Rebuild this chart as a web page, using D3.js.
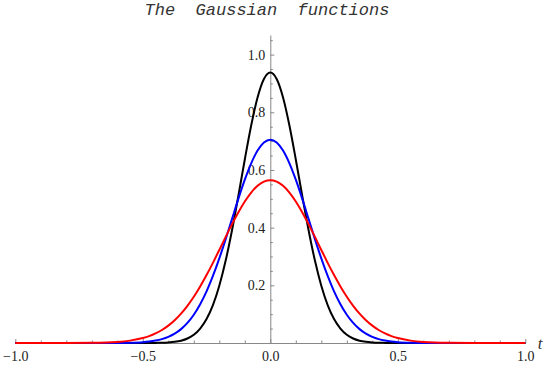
<!DOCTYPE html>
<html>
<head>
<meta charset="utf-8">
<script src="https://cdn.jsdelivr.net/npm/d3@7"></script>
<style>
  body { margin: 0; background: #fff; }
  svg { display: block; }
  .axis text { font-family: "Liberation Serif", "Times New Roman", serif; font-size: 14px; fill: #222; }
  .axis line, .axis path { stroke: #888; }
</style>
</head>
<body>
<div id="chart"></div>
<script>
// values
var tValues = [-1, -0.8, -0.7, -0.6, -0.55, -0.5, -0.475, -0.45, -0.425, -0.4, -0.375, -0.35, -0.325,
  -0.3, -0.275, -0.25, -0.225, -0.2, -0.175, -0.15, -0.125, -0.1, -0.075, -0.05, -0.025, 0,
  0.025, 0.05, 0.075, 0.1, 0.125, 0.15, 0.175, 0.2, 0.225, 0.25, 0.275, 0.3, 0.325, 0.35,
  0.375, 0.4, 0.425, 0.45, 0.475, 0.5, 0.55, 0.6, 0.7, 0.8, 1];

var blackValues = [0, 0, 0, 0, 0, 0, 0.0001, 0.0004, 0.0008, 0.0019, 0.004, 0.0081, 0.0156,
  0.0285, 0.0499, 0.083, 0.1316, 0.1987, 0.2858, 0.3918, 0.5116, 0.6363, 0.7541, 0.8513, 0.9155, 0.938,
  0.9155, 0.8513, 0.7541, 0.6363, 0.5116, 0.3918, 0.2858, 0.1987, 0.1316, 0.083, 0.0499, 0.0285, 0.0156, 0.0081,
  0.004, 0.0019, 0.0008, 0.0004, 0.0001, 0, 0, 0, 0, 0, 0];

var blueValues = [0, 0, 0, 0.0003, 0.0009, 0.0029, 0.005, 0.0083, 0.0134, 0.0211, 0.0323, 0.0481, 0.0696,
  0.098, 0.1344, 0.1791, 0.2324, 0.2933, 0.3603, 0.4305, 0.5006, 0.5662, 0.6232, 0.6674, 0.6954, 0.705,
  0.6954, 0.6674, 0.6232, 0.5662, 0.5006, 0.4305, 0.3603, 0.2933, 0.2324, 0.1791, 0.1344, 0.098, 0.0696, 0.0481,
  0.0323, 0.0211, 0.0134, 0.0083, 0.005, 0.0029, 0.0009, 0.0003, 0, 0, 0];

var redValues = [0, 0.0001, 0.0006, 0.0037, 0.0082, 0.0171, 0.024, 0.0332, 0.0451, 0.0602, 0.0789, 0.1017, 0.1288,
  0.1603, 0.196, 0.2355, 0.278, 0.3226, 0.3678, 0.4121, 0.4536, 0.4908, 0.5218, 0.5451, 0.5596, 0.5645,
  0.5596, 0.5451, 0.5218, 0.4908, 0.4536, 0.4121, 0.3678, 0.3226, 0.278, 0.2355, 0.196, 0.1603, 0.1288, 0.1017,
  0.0789, 0.0602, 0.0451, 0.0332, 0.024, 0.0171, 0.0082, 0.0037, 0.0006, 0.0001, 0];

var xMajorTicks = [-1, -0.5, 0, 0.5, 1];
var xMinorTicks = [-0.9, -0.8, -0.7, -0.6, -0.4, -0.3, -0.2, -0.1, 0.1, 0.2, 0.3, 0.4, 0.6, 0.7, 0.8, 0.9];
var yMajorTicks = [0.2, 0.4, 0.6, 0.8, 1.0];
var yMinorTicks = [0.05, 0.1, 0.15, 0.25, 0.3, 0.35, 0.45, 0.5, 0.55, 0.65, 0.7, 0.75, 0.85, 0.9, 0.95, 1.05];

var series = [
  {name: "black", color: "#000000", values: blackValues},
  {name: "blue", color: "#0000ff", values: blueValues},
  {name: "red", color: "#ff0000", values: redValues}
];

var width = 552, height = 368;

var x = d3.scaleLinear().domain([-1, 1]).range([15.3, 525.3]);
var y = d3.scaleLinear().domain([0, 1.068]).range([343, 35]);

var svg = d3.select("#chart").append("svg")
    .attr("width", width)
    .attr("height", height);

// title
svg.append("text")
    .attr("x", 267)
    .attr("y", 15)
    .attr("text-anchor", "middle")
    .attr("font-family", "Liberation Mono, DejaVu Sans Mono, monospace")
    .attr("font-style", "italic")
    .attr("font-size", 17)
    .attr("fill", "#333")
    .attr("xml:space", "preserve")
    .style("white-space", "pre")
    .text("The  Gaussian  functions");

// x axis (minor ticks, then major with labels)
svg.append("g")
    .attr("class", "axis")
    .attr("transform", "translate(0," + y(0) + ")")
    .call(d3.axisBottom(x).tickValues(xMinorTicks).tickSizeInner(-2.5).tickSizeOuter(0).tickFormat(""));

svg.append("g")
    .attr("class", "axis")
    .attr("transform", "translate(0," + y(0) + ")")
    .call(d3.axisBottom(x).tickValues(xMajorTicks).tickSizeInner(-4).tickSizeOuter(0)
      .tickPadding(8).tickFormat(d3.format(".1f")));

// y axis
svg.append("g")
    .attr("class", "axis")
    .attr("transform", "translate(" + x(0) + ",0)")
    .call(d3.axisLeft(y).tickValues(yMinorTicks).tickSizeInner(-2.5).tickSizeOuter(0).tickFormat(""))
    .call(function(g) { g.select(".domain").remove(); });

svg.append("g")
    .attr("class", "axis")
    .attr("transform", "translate(" + x(0) + ",0)")
    .call(d3.axisLeft(y).tickValues(yMajorTicks).tickSizeInner(-4).tickSizeOuter(0)
      .tickPadding(5).tickFormat(d3.format(".1f")));

// the curves
var line = d3.line()
    .x(function(d) { return x(d[0]); })
    .y(function(d) { return y(d[1]); })
    .curve(d3.curveMonotoneX);

series.forEach(function(s) {
  svg.append("path")
      .datum(tValues.map(function(t, i) { return [t, s.values[i]]; }))
      .attr("fill", "none")
      .attr("stroke", s.color)
      .attr("stroke-width", 2)
      .attr("d", line);
});

// axis label
svg.append("text")
    .attr("x", 540)
    .attr("y", 349)
    .attr("text-anchor", "middle")
    .attr("font-family", "Liberation Serif, Times New Roman, serif")
    .attr("font-style", "italic")
    .attr("font-size", 17)
    .attr("fill", "#333")
    .text("t");
</script>
</body>
</html>
